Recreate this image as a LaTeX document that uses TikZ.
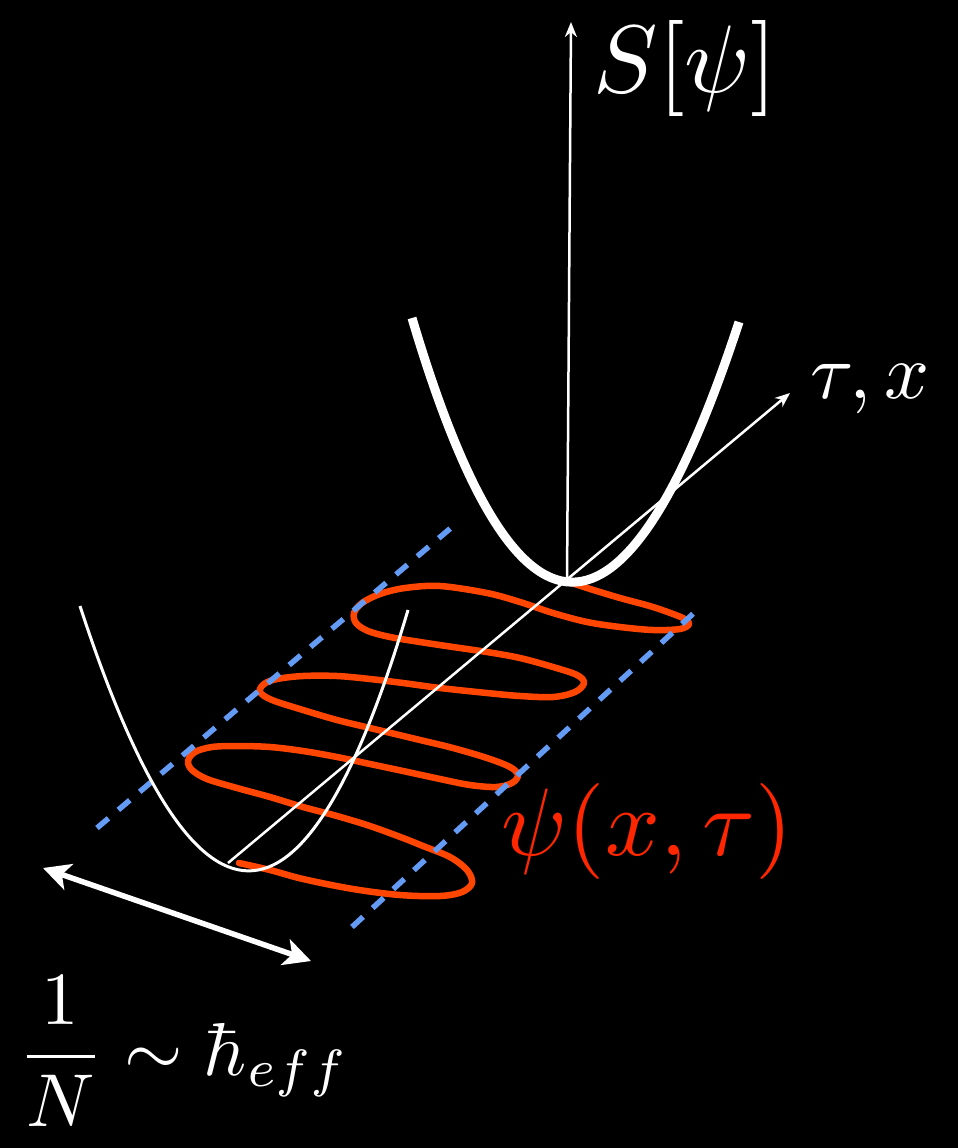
\documentclass[tikz,border=0pt]{standalone}
\usetikzlibrary{arrows.meta}
\definecolor{loopred}{RGB}{255,70,0}
\definecolor{labelred}{RGB}{255,38,0}
\definecolor{guideblue}{RGB}{100,155,245}

\begin{document}
\begin{tikzpicture}[x=1pt, y=-1pt,
    axis/.style={white, line width=2.5pt, -{Stealth[length=15pt, width=12pt]}},
    guide/.style={guideblue, line width=5.5pt, dash pattern=on 15pt off 13pt},
    lbl/.style={inner sep=0pt, text=white}]
    \fill[black] (0,0) rectangle (958,1148);

    \coordinate (O) at (567,580);
    \coordinate (Stop) at (571,22);
    \coordinate (Tlow) at (228,863);
    \coordinate (Ttip) at (790,393);
    \coordinate (ArrL) at (43,868);
    \coordinate (ArrR) at (311,961);

    \draw[loopred, line width=6.5pt, line join=round, line cap=round]
        plot[smooth, tension=0.55] coordinates {
        (239,863) (270,870) (303,879) (353,889) (400,895) (440,896) (462,892)
        (472,883) (467,870) (450,857) (423,846) (403,838) (370,826) (337,816)
        (303,807) (270,797) (237,788) (207,779) (192,770) (188,761) (195,752)
        (212,747) (237,746) (270,747) (303,751) (337,757) (370,764) (403,771)
        (440,779) (470,785) (496,787) (512,783) (518,775) (510,767) (487,758)
        (453,748) (420,740) (370,728) (337,720) (303,710) (272,700) (260,692)
        (264,684) (277,679) (303,676) (337,676) (370,679) (403,683) (440,688)
        (487,693) (520,696) (553,697) (575,692) (584,683) (577,675) (553,667)
        (520,658) (487,652) (453,647) (420,642) (390,637) (368,631) (356,623)
        (354,613) (362,603) (380,594) (405,588) (440,586) (487,593) (520,602)
        (553,613) (587,622) (620,627) (653,630) (680,629) (689,624) (683,618)
        (653,607) (620,598) (587,588) (563,580)};

    \draw[guide] (97,828) -- (452,527);
    \draw[guide] (352,927) -- (695,612);

    \draw[axis] (Tlow) -- (Ttip);
    \draw[axis] (O) -- (Stop);

    \draw[white, line width=3pt] (80,606) .. controls (195,958) and (304,959) .. (408,610);
    \draw[white, line width=9pt] (412,318) .. controls (516,669) and (625,670) .. (739,322);

    \draw[white, line width=5.5pt, {Stealth[length=27pt, width=27pt, inset=7pt]}-{Stealth[length=27pt, width=27pt, inset=7pt]}] (ArrL) -- (ArrR);

    \node[lbl, scale=9.6, anchor=base west] (action) at (592,92) {$S[\psi]$};
    \node[lbl, scale=7.9, anchor=base west] (axislbl) at (809,398) {$\tau, x$};
    \node[lbl, scale=9.6, anchor=base west, text=labelred] (field) at (500,855) {$\psi(x,\tau)$};
    \node[lbl, scale=7.5, anchor=base west] (coupling) at (16,1075) {$\displaystyle\frac{1}{N}\sim\hbar_{eff}$};
\end{tikzpicture}
\end{document}
